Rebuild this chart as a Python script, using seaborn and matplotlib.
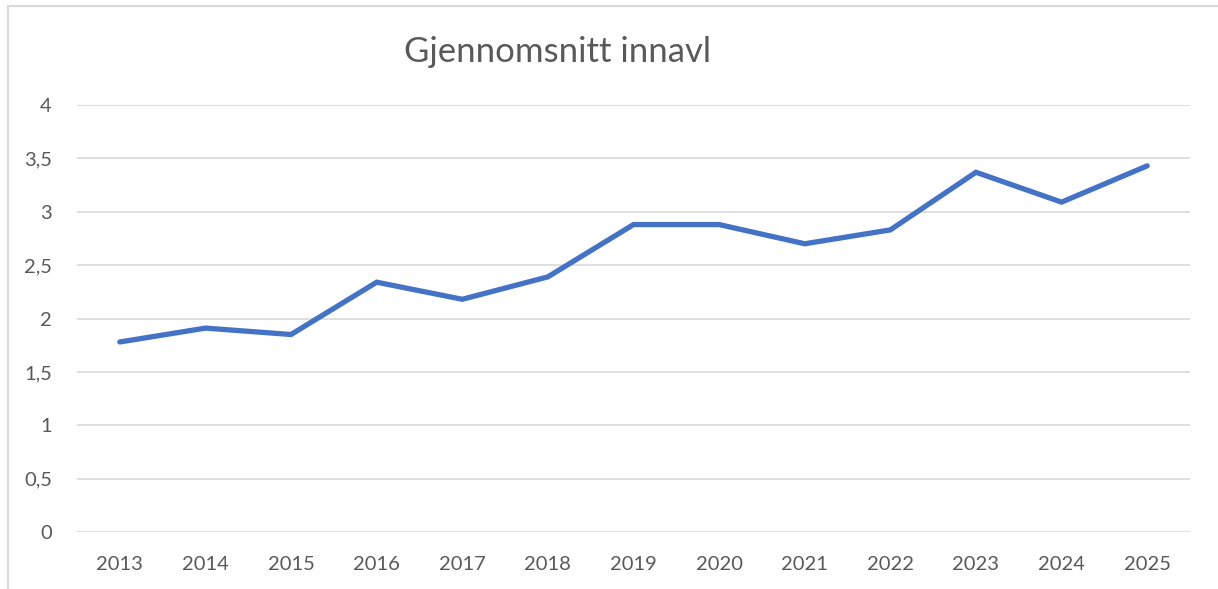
import matplotlib
matplotlib.use("Agg")
import matplotlib.pyplot as plt
import seaborn as sns
import pandas as pd
from matplotlib.patches import Rectangle
from matplotlib.ticker import FuncFormatter

years = [2013, 2014, 2015, 2016, 2017, 2018, 2019, 2020, 2021, 2022, 2023, 2024, 2025]
innavl = [1.78, 1.91, 1.85, 2.34, 2.18, 2.39, 2.88, 2.88, 2.70, 2.83, 3.37, 3.09, 3.43]
title = "Gjennomsnitt innavl"

sns.set_theme(style="white")
plt.rcParams['font.family'] = ['Lato', 'DejaVu Sans']

df = pd.DataFrame({"year": years, "value": innavl})

fig = plt.figure(figsize=(12.18, 5.89), dpi=100)
ax = fig.add_axes([77/1218, 1-532/589, (1190-77)/1218, (532-105)/589])

sns.lineplot(data=df, x="year", y="value", ax=ax, color="#4472C4", linewidth=3.8,
             solid_capstyle="round", solid_joinstyle="miter")

ax.set_xlim(2012.5, 2025.5)
ax.set_ylim(0, 4)
ax.set_xticks(years)
ax.set_yticks([0, 0.5, 1, 1.5, 2, 2.5, 3, 3.5, 4])
ax.yaxis.set_major_formatter(FuncFormatter(lambda v, p: (f"{v:g}").replace(".", ",")))
ax.grid(axis="y", color="#d9d9d9", linewidth=1.2)
ax.grid(axis="x", visible=False)
ax.set_axisbelow(True)
for s in ax.spines.values():
    s.set_visible(False)
ax.tick_params(axis="both", length=0, labelsize=14.5, labelcolor="#595959")
ax.tick_params(axis="x", pad=17)
ax.tick_params(axis="y", pad=18)
ax.set_xlabel("")
ax.set_ylabel("")

fig.text(558/1218, 1-52/589, title, ha="center", va="center", fontsize=25, color="#595959")

fig.patches.append(Rectangle((8/1218, -0.1), 1.2, 1-6/589+0.1, transform=fig.transFigure,
                             fill=False, edgecolor="#d9d9d9", linewidth=1.5))

fig.savefig("out.png", dpi=100)
